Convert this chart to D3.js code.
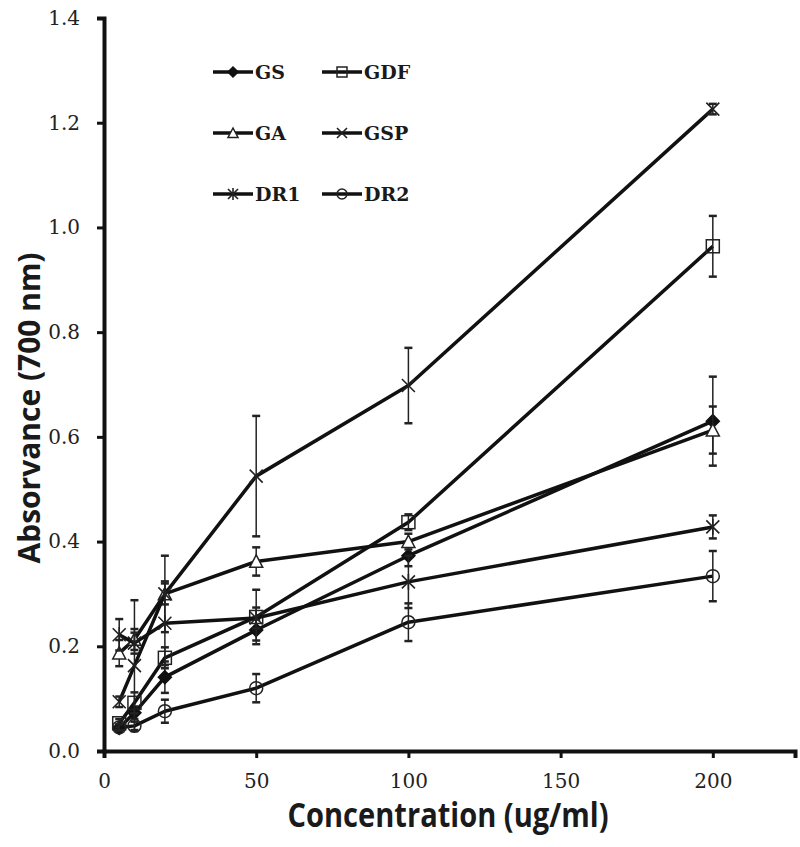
<!DOCTYPE html>
<html>
<head>
<meta charset="utf-8">
<script src="https://cdn.jsdelivr.net/npm/d3@7"></script>
<style>
  body { margin: 0; background: #fff; }
  svg { display: block; }
</style>
</head>
<body>
<div class="chart"></div>
<script>
// concentrations (ug/ml)
const conc = [5, 10, 20, 50, 100, 200];

// absorbance per extract
const gs  = [0.044, 0.073, 0.141, 0.231, 0.373, 0.630];
const gdf = [0.053, 0.092, 0.178, 0.256, 0.437, 0.964];
const ga  = [0.187, 0.213, 0.300, 0.362, 0.400, 0.613];
const gsp = [0.094, 0.163, 0.300, 0.525, 0.698, 1.226];
const dr1 = [0.222, 0.206, 0.244, 0.254, 0.323, 0.428];
const dr2 = [0.045, 0.048, 0.076, 0.120, 0.246, 0.334];

// standard deviations
const gsErr  = [0.006, 0.012, 0.030, 0.020, 0.020, 0.085];
const gdfErr = [0.008, 0.020, 0.020, 0.052, 0.015, 0.058];
const gaErr  = [0.025, 0.020, 0.020, 0.027, 0.015, 0.045];
const gspErr = [0.010, 0.125, 0.073, 0.115, 0.072, 0.010];
const dr1Err = [0.030, 0.020, 0.080, 0.020, 0.050, 0.022];
const dr2Err = [0.006, 0.008, 0.022, 0.027, 0.036, 0.048];

const seriesNames = ['GS', 'GDF', 'GA', 'GSP', 'DR1', 'DR2'];
const seriesValues = [gs, gdf, ga, gsp, dr1, dr2];
const seriesErrors = [gsErr, gdfErr, gaErr, gspErr, dr1Err, dr2Err];
const seriesMarkers = ['diamond', 'square', 'triangle', 'x', 'asterisk', 'circle'];

const xTicks = [0, 50, 100, 150, 200];
const yTicks = [0, 0.2, 0.4, 0.6, 0.8, 1.0, 1.2, 1.4];

const width = 800, height = 847;
const margin = { top: 18, right: 5, bottom: 96, left: 104 };

const svg = d3.select('.chart').append('svg')
  .attr('width', width)
  .attr('height', height);

const x = d3.scaleLinear().domain([0, 227]).range([margin.left, width - margin.right]);
const y = d3.scaleLinear().domain([0, 1.4]).range([height - margin.bottom, margin.top]);

const serif = '"DejaVu Serif", "Liberation Serif", serif';
const sans = '"Open Sans", "Noto Sans", sans-serif';

// axes
const xAxis = svg.append('g')
  .attr('transform', `translate(0,${y(0)})`)
  .call(d3.axisBottom(x).tickValues(xTicks).tickSize(7).tickPadding(16).tickFormat(d3.format('d')));
const yAxis = svg.append('g')
  .attr('transform', `translate(${x(0)},0)`)
  .call(d3.axisLeft(y).tickValues(yTicks).tickSize(7).tickPadding(17).tickFormat(d3.format('.1f')));

[xAxis, yAxis].forEach(a => {
  a.select('.domain').attr('stroke', '#111').attr('stroke-width', 4);
  a.selectAll('.tick line').attr('stroke', '#111').attr('stroke-width', 3);
  a.selectAll('.tick text')
    .attr('fill', '#222')
    .attr('font-family', serif)
    .attr('font-size', 20);
});

// axis titles
svg.append('text')
  .attr('x', 448).attr('y', 827)
  .attr('text-anchor', 'middle')
  .attr('font-family', sans)
  .attr('font-weight', 'bold')
  .attr('font-size', 34)
  .attr('textLength', 321)
  .attr('lengthAdjust', 'spacingAndGlyphs')
  .attr('fill', '#1a1a1a')
  .text('Concentration (ug/ml)');

svg.append('text')
  .attr('transform', `translate(40,408) rotate(-90)`)
  .attr('text-anchor', 'middle')
  .attr('font-family', sans)
  .attr('font-weight', 'bold')
  .attr('font-size', 31)
  .attr('textLength', 311)
  .attr('lengthAdjust', 'spacingAndGlyphs')
  .attr('fill', '#1a1a1a')
  .text('Absorvance (700 nm)');

function drawMarker(g, type, s) {
  const h = s / 2;
  if (type === 'diamond') {
    g.append('path').attr('d', `M0,${-h}L${h},0L0,${h}L${-h},0Z`)
      .attr('fill', '#111').attr('stroke', '#111').attr('stroke-width', 1.5);
  } else if (type === 'square') {
    g.append('rect').attr('x', -h).attr('y', -h).attr('width', s).attr('height', s)
      .attr('fill', 'none').attr('stroke', '#222').attr('stroke-width', 1.5);
  } else if (type === 'triangle') {
    g.append('path').attr('d', `M0,${-h}L${h},${h * 0.9}L${-h},${h * 0.9}Z`)
      .attr('fill', '#fff').attr('stroke', '#222').attr('stroke-width', 1.5);
  } else if (type === 'x') {
    g.append('path').attr('d', `M${-h},${-h}L${h},${h}M${-h},${h}L${h},${-h}`)
      .attr('stroke', '#222').attr('stroke-width', 1.6);
  } else if (type === 'asterisk') {
    g.append('path').attr('d', `M${-h},${-h}L${h},${h}M${-h},${h}L${h},${-h}M0,${-h * 1.2}L0,${h * 1.2}`)
      .attr('stroke', '#222').attr('stroke-width', 1.6);
  } else if (type === 'circle') {
    g.append('circle').attr('r', h)
      .attr('fill', 'none').attr('stroke', '#222').attr('stroke-width', 1.5);
  }
}

const line = d3.line().x((d, i) => x(conc[i])).y(d => y(d));
const plot = svg.append('g');

seriesValues.forEach((vals, si) => {
  const g = plot.append('g');
  g.append('path')
    .datum(vals)
    .attr('d', line)
    .attr('fill', 'none')
    .attr('stroke', '#111')
    .attr('stroke-width', 3.5)
    .attr('stroke-linejoin', 'round');

  // error bars
  vals.forEach((v, i) => {
    const e = seriesErrors[si][i];
    const cx = x(conc[i]);
    const eg = g.append('g').attr('stroke', '#222').attr('stroke-width', 1.5);
    eg.append('line').attr('x1', cx).attr('x2', cx).attr('y1', y(v - e)).attr('y2', y(v + e));
    eg.append('line').attr('x1', cx - 4).attr('x2', cx + 4).attr('y1', y(v - e)).attr('y2', y(v - e)).attr('stroke-width', 2.5);
    eg.append('line').attr('x1', cx - 4).attr('x2', cx + 4).attr('y1', y(v + e)).attr('y2', y(v + e)).attr('stroke-width', 2.5);
  });

  vals.forEach((v, i) => {
    const mg = g.append('g').attr('transform', `translate(${x(conc[i])},${y(v)})`);
    drawMarker(mg, seriesMarkers[si], 13);
  });
});

// legend
const legendCols = [213, 322];
const legendRows = [72, 133, 194];
seriesNames.forEach((name, i) => {
  const lx = legendCols[i % 2];
  const ly = legendRows[Math.floor(i / 2)];
  const lg = svg.append('g').attr('transform', `translate(${lx},${ly})`);
  lg.append('line').attr('x1', 0).attr('x2', 40).attr('y1', 0).attr('y2', 0)
    .attr('stroke', '#111').attr('stroke-width', 3.5);
  const mg = lg.append('g').attr('transform', 'translate(20,0)');
  drawMarker(mg, seriesMarkers[i], 10);
  lg.append('text')
    .attr('x', 42).attr('y', 7)
    .attr('font-family', serif)
    .attr('font-weight', 'bold')
    .attr('font-size', 19)
    .attr('fill', '#1a1a1a')
    .text(name);
});
</script>
</body>
</html>
